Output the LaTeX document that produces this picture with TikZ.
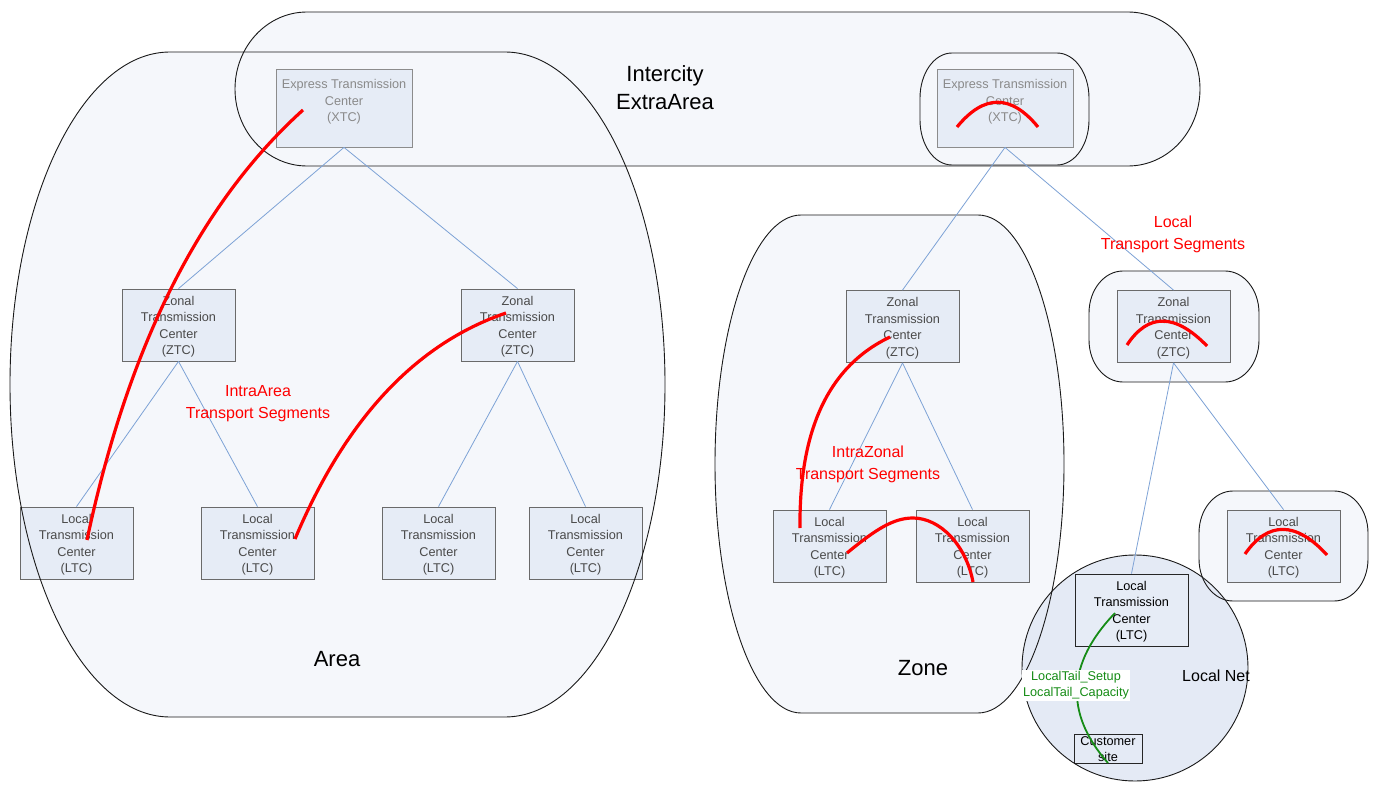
\documentclass[tikz,border=0pt]{standalone}
\usepackage{fontspec}
\setmainfont{Liberation Sans}
\definecolor{encfill}{HTML}{F5F7FB}
\definecolor{boxfill}{HTML}{E6ECF6}
\definecolor{netfill}{HTML}{E4EAF5}
\definecolor{conn}{HTML}{7DA2D6}
\definecolor{xtcline}{HTML}{8C8C8C}
\definecolor{xtctxt}{HTML}{8A8A8A}
\definecolor{boxline}{HTML}{6A6A6A}
\definecolor{boxtext}{HTML}{4A4A4A}
\definecolor{segred}{HTML}{FF0000}
\definecolor{tailgreen}{HTML}{168C16}
\newcommand\enclpath[6]{({#1+#5},#2) -- ({#3-#5},#2) arc[start angle=-90,end angle=0,x radius=#5,y radius=#6] -- (#3,{#4-#6}) arc[start angle=0,end angle=90,x radius=#5,y radius=#6] -- ({#1+#5},#4) arc[start angle=90,end angle=180,x radius=#5,y radius=#6] -- (#1,{#2+#6}) arc[start angle=180,end angle=270,x radius=#5,y radius=#6] -- cycle}
\begin{document}
\begin{tikzpicture}[x=1pt,y=-1pt,
  tcbox/.style={draw=boxline, fill=boxfill, line width=0.8pt, minimum width=113pt, minimum height=72pt, inner sep=0pt},
  xtcbox/.style={tcbox, draw=xtcline, minimum width=136pt, minimum height=78pt},
  boxlabel/.style={inner sep=0pt, align=center, font=\fontsize{12.7}{16.5}\selectfont},
  ltc/.style={tcbox, label={[boxlabel, text=boxtext, yshift=-1.8pt]center:{Local\\Transmission\\Center\\(LTC)}}},
  ztc/.style={tcbox, label={[boxlabel, text=boxtext, yshift=-1.8pt]center:{Zonal\\Transmission\\Center\\(ZTC)}}},
  xtc/.style={xtcbox, label={[boxlabel, text=xtctxt, yshift=6.2pt]center:{Express Transmission\\Center\\(XTC)}}},
  encl/.style={draw=black!90, line width=0.9pt},
  encfillst/.style={fill=encfill},
  link/.style={draw=conn, line width=0.8pt},
  seg/.style={draw=segred, line width=3.2pt},
  tail/.style={draw=tailgreen, line width=1.8pt},
  biglabel/.style={align=center, inner sep=0pt, font=\fontsize{22}{28}\selectfont},
  redlabel/.style={align=center, inner sep=0pt, text=segred, font=\fontsize{16}{22}\selectfont}
]
\useasboundingbox (0,0) rectangle (1376,794);
\fill[white] (0,0) rectangle (1376,794);
% enclosure fills
\fill[encfillst] \enclpath{10}{52}{665}{717}{160}{332.5};
\fill[encfillst] \enclpath{235}{12}{1200}{166}{72}{77};
\fill[encfillst] \enclpath{715}{215}{1064}{713}{86}{249};
\fill[encfillst] \enclpath{920}{53}{1089}{165}{32}{45};
\fill[encfillst] \enclpath{1089}{271}{1259}{382}{34}{42};
\fill[encfillst] \enclpath{1199}{491}{1368}{601}{34}{42};
\fill[netfill] (1135,668) circle[radius=113];
% boxes
\node[xtc] (xtcL) at (344,108) {};
\node[xtc] (xtcR) at (1005,108) {};
\node[ztc] (ztcA1) at (178.5,325) {};
\node[ztc] (ztcA2) at (517.5,325) {};
\node[ltc] (ltcA1) at (76.5,543) {};
\node[ltc] (ltcA2) at (257.5,543) {};
\node[ltc] (ltcA3) at (438.5,543) {};
\node[ltc] (ltcA4) at (585.5,543) {};
\node[ztc] (ztcZ) at (902.5,326.5) {};
\node[ltc] (ltcZ1) at (829.5,546) {};
\node[ltc] (ltcZ2) at (972.5,546) {};
\node[ztc] (ztcR) at (1173.5,326.5) {};
\node[ltc] (ltcR) at (1283.5,546) {};
\node[tcbox, draw=black!85, label={[boxlabel, text=black, yshift=-1.5pt]center:{Local\\Transmission\\Center\\(LTC)}}] (ltcN) at (1131.5,610) {};
\node[tcbox, draw=black!85, fill=netfill, minimum width=68pt, minimum height=29pt, label={[boxlabel, text=black, yshift=-0.8pt]center:{Customer\\site}}] (cust) at (1108,748.5) {};
% enclosure outlines
\draw[encl] \enclpath{10}{52}{665}{717}{160}{332.5};
\draw[encl] \enclpath{235}{12}{1200}{166}{72}{77};
\draw[encl] \enclpath{715}{215}{1064}{713}{86}{249};
\draw[encl] \enclpath{920}{53}{1089}{165}{32}{45};
\draw[encl] \enclpath{1089}{271}{1259}{382}{34}{42};
\draw[encl] \enclpath{1199}{491}{1368}{601}{34}{42};
\draw[encl] (1135,668) circle[radius=113];
% hierarchy links
\draw[link] (xtcL.south) -- (ztcA1.north);
\draw[link] (xtcL.south) -- (ztcA2.north);
\draw[link] (ztcA1.south) -- (ltcA1.north);
\draw[link] (ztcA1.south) -- (ltcA2.north);
\draw[link] (ztcA2.south) -- (ltcA3.north);
\draw[link] (ztcA2.south) -- (ltcA4.north);
\draw[link] (xtcR.south) -- (ztcZ.north);
\draw[link] (xtcR.south) -- (ztcR.north);
\draw[link] (ztcZ.south) -- (ltcZ1.north);
\draw[link] (ztcZ.south) -- (ltcZ2.north);
\draw[link] (ztcR.south) -- (ltcN.north);
\draw[link] (ztcR.south) -- (ltcR.north);
% segment end points
\coordinate (s1a) at (303,110);
\coordinate (s1b) at (87,540);
\coordinate (s2a) at (506,313);
\coordinate (s2b) at (295,539);
\coordinate (s3a) at (890,337);
\coordinate (s3b) at (800,528);
\coordinate (s4a) at (847,553);
\coordinate (s4m) at (913,518);
\coordinate (s4b) at (973,582);
\coordinate (s5a) at (957,127);
\coordinate (s5b) at (1038,127);
\coordinate (s6a) at (1127,345);
\coordinate (s6b) at (1207,346);
\coordinate (s7a) at (1245,554);
\coordinate (s7b) at (1327,555);
\coordinate (g1a) at (1115,613);
\coordinate (g1b) at (1108,763);
% red transport segments
\draw[seg] (s1a) .. controls (200,203) and (128,346) .. (s1b);
\draw[seg] (s2a) .. controls (415,344) and (345,420) .. (s2b);
\draw[seg] (s3a) .. controls (829,366) and (799,429) .. (s3b);
\draw[seg] (s4a) .. controls (875,530) and (893,518) .. (s4m) .. controls (940,518) and (966,545) .. (s4b);
\draw[seg] (s5a) .. controls (984,94) and (1011,94) .. (s5b);
\draw[seg] (s6a) .. controls (1148,313) and (1175,313) .. (s6b);
\draw[seg] (s7a) .. controls (1268,521) and (1296,521) .. (s7b);
% green local tail
\draw[tail] (g1a) .. controls (1067,663) and (1064,713) .. (g1b);
\node[fill=white, inner sep=1.5pt, align=center, text=tailgreen, font=\fontsize{12.7}{16}\selectfont] (tailtxt) at (1076,685.5) {LocalTail\_Setup\\LocalTail\_Capacity};
% labels
\node[biglabel] (lblic) at (665,88) {Intercity\\ExtraArea};
\node[biglabel] (lblarea) at (337,659) {Area};
\node[biglabel] (lblzone) at (923,668) {Zone};
\node[inner sep=0pt, font=\fontsize{16}{20}\selectfont] (lblnet) at (1216,676) {Local Net};
\node[redlabel] (lblia) at (258,404) {IntraArea\\Transport Segments};
\node[redlabel] (lbliz) at (868,464) {IntraZonal\\Transport Segments};
\node[redlabel] (lblloc) at (1173,234) {Local\\Transport Segments};
\end{tikzpicture}
\end{document}
